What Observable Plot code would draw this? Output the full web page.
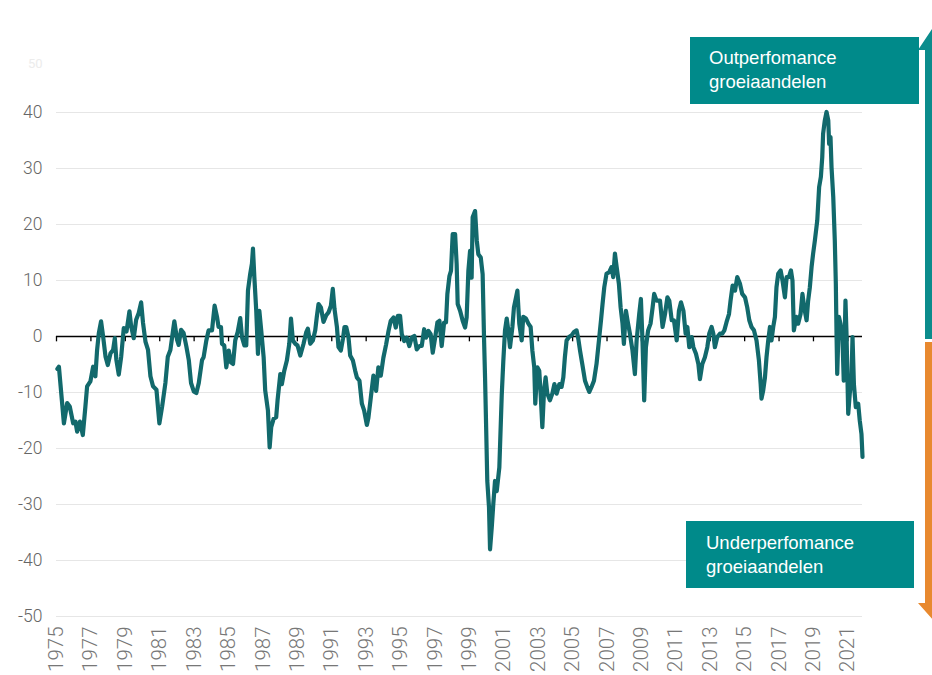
<!DOCTYPE html>
<html><head><meta charset="utf-8">
<script src="https://cdn.jsdelivr.net/npm/d3@7"></script>
<script src="https://cdn.jsdelivr.net/npm/@observablehq/plot@0.6"></script>
<style>
body{margin:0;background:#fff;}
#wrap{position:relative;width:932px;height:675px;overflow:hidden;background:#fff;}
#chart{position:absolute;left:0;top:0;}
.box{position:absolute;background:#008A8A;color:#fff;font-family:"Liberation Sans",Arial,sans-serif;font-size:18.5px;line-height:24px;box-sizing:border-box;}
#arrows{position:absolute;left:0;top:0;pointer-events:none;}
</style>
</head><body>
<div id="wrap">
  <div id="chart"></div>
  <svg id="arrows" width="932" height="675">
    <polygon points="918,50 942,14 966,50 958,50 958,339 925,339 925,50" fill="#0B8C8C"/>
    <polygon points="925,342 958,342 958,603 966,603 942,630 918,603 925,603" fill="#E8892F"/>
  </svg>
  <div class="box" style="left:690px;top:37px;width:229px;height:67px;padding:9px 0 0 19px;">Outperfomance<br>groeiaandelen</div>
  <div class="box" style="left:686px;top:521px;width:228px;height:67px;padding:10px 0 0 20px;">Underperfomance<br>groeiaandelen</div>
</div>
<script>
const years = [1975.05,1975.14,1975.43,1975.62,1975.77,1975.97,1976.10,1976.20,1976.36,1976.53,1976.68,1976.78,1976.97,
1977.13,1977.26,1977.36,1977.46,1977.59,1977.71,1977.85,1977.98,1978.14,1978.29,1978.39,1978.48,1978.62,1978.76,1978.91,
1979.07,1979.24,1979.34,1979.49,1979.63,1979.78,1979.92,1980.03,1980.17,1980.32,1980.46,1980.61,1980.81,1980.98,
1981.14,1981.33,1981.47,1981.62,1981.78,1981.85,1982.01,1982.10,1982.24,1982.39,1982.55,1982.69,1982.82,1982.98,
1983.13,1983.27,1983.46,1983.55,1983.71,1983.84,1984.04,1984.19,1984.33,1984.42,1984.56,1984.62,1984.75,1984.87,
1985.01,1985.14,1985.26,1985.39,1985.53,1985.68,1985.78,1985.92,1986.03,1986.13,1986.26,1986.36,1986.42,1986.50,
1986.61,1986.71,1986.79,1986.90,1987.04,1987.13,1987.29,1987.39,1987.48,1987.62,1987.77,1987.85,1988.01,1988.10,
1988.24,1988.39,1988.53,1988.63,1988.74,1988.88,1989.01,1989.17,1989.36,1989.52,1989.61,1989.75,1989.90,1990.04,
1990.13,1990.23,1990.37,1990.52,1990.68,1990.81,1990.95,1991.06,1991.16,1991.30,1991.39,1991.53,1991.65,1991.74,
1991.84,1991.97,1992.07,1992.23,1992.36,1992.46,1992.61,1992.75,1992.88,1993.04,1993.13,1993.27,1993.42,1993.58,
1993.71,1993.85,1994.00,1994.16,1994.30,1994.43,1994.59,1994.72,1994.84,1994.97,1995.07,1995.21,1995.36,1995.51,
1995.65,1995.80,1995.94,1996.10,1996.23,1996.37,1996.48,1996.62,1996.75,1996.87,1997.01,1997.14,1997.26,1997.39,
1997.53,1997.64,1997.72,1997.84,1997.93,1998.03,1998.17,1998.26,1998.32,1998.46,1998.61,1998.75,1998.84,1998.94,
1999.04,1999.13,1999.19,1999.33,1999.43,1999.52,1999.66,1999.77,1999.85,1999.91,1999.97,2000.04,2000.14,2000.20,
2000.30,2000.39,2000.49,2000.59,2000.74,2000.88,2000.97,2001.07,2001.17,2001.26,2001.36,2001.50,2001.59,2001.71,
2001.79,2001.90,2002.04,2002.13,2002.29,2002.43,2002.56,2002.66,2002.77,2002.83,2002.95,2003.06,2003.14,2003.24,
2003.34,2003.43,2003.53,2003.68,2003.82,2003.94,2004.07,2004.23,2004.36,2004.46,2004.55,2004.65,2004.79,2004.94,
2005.08,2005.23,2005.33,2005.43,2005.56,2005.72,2005.85,2005.97,2006.10,2006.24,2006.39,2006.53,2006.65,2006.74,
2006.84,2006.97,2007.13,2007.26,2007.36,2007.46,2007.56,2007.69,2007.79,2007.90,2007.98,2008.10,2008.19,2008.33,
2008.48,2008.62,2008.72,2008.87,2008.97,2009.06,2009.16,2009.26,2009.39,2009.53,2009.65,2009.74,2009.88,2010.08,
2010.23,2010.37,2010.51,2010.62,2010.76,2010.89,2011.05,2011.18,2011.30,2011.44,2011.57,2011.67,2011.78,2011.92,
2012.02,2012.17,2012.31,2012.40,2012.54,2012.69,2012.83,2012.94,2013.08,2013.18,2013.27,2013.41,2013.56,2013.70,
2013.82,2013.95,2014.09,2014.18,2014.30,2014.44,2014.57,2014.73,2014.86,2015.02,2015.15,2015.27,2015.40,2015.54,
2015.69,2015.83,2015.93,2015.98,2016.08,2016.18,2016.27,2016.37,2016.47,2016.56,2016.66,2016.76,2016.85,2016.95,
2017.09,2017.20,2017.34,2017.44,2017.57,2017.69,2017.78,2017.86,2018.00,2018.11,2018.25,2018.36,2018.46,2018.60,
2018.69,2018.79,2018.89,2018.98,2019.08,2019.22,2019.33,2019.43,2019.51,2019.56,2019.66,2019.76,2019.86,2019.91,
2019.99,2020.05,2020.15,2020.24,2020.30,2020.34,2020.38,2020.48,2020.57,2020.69,2020.76,2020.86,2020.92,2021.02,
2021.11,2021.21,2021.27,2021.35,2021.46,2021.60,2021.69,2021.79,2021.85];

const values = [-5.8,-5.4,-15.5,-11.9,-12.5,-15.5,-15.2,-17.0,-15.2,-17.6,-12.5,-8.9,-8.0,
-5.4,-7.1,-2.4,0.6,2.7,0,-3.6,-5.1,-3.0,-2.4,-0.3,-4.2,-6.8,-3.6,1.5,
0.9,4.5,1.8,-0.3,3.0,4.2,6.1,2.4,-0.9,-2.4,-7.1,-8.9,-9.5,-15.5,
-12.5,-8.3,-3.6,-2.4,1.2,2.7,-0.6,-1.5,1.2,0.6,-1.8,-4.2,-8.3,-9.8,
-10.1,-8.3,-4.2,-3.7,-0.7,1.1,1.1,5.5,3.5,1.7,1.7,-1.3,-1.6,-5.5,
-2.5,-4.6,-4.9,-0.7,0.8,3.3,-0.1,-1.6,-1.6,8.2,11.2,13.0,15.7,10.6,
4.6,-3.1,4.6,1.1,-3.7,-9.6,-13.2,-19.8,-16.2,-14.7,-14.4,-11.4,-6.7,-8.5,
-6.1,-4.3,-1.3,3.2,-0.7,-1.3,-1.6,-3.4,-1.3,0.8,1.4,-1.3,-0.7,1.1,
3.5,5.8,5.2,2.6,3.8,4.3,5.5,8.5,4.9,1.7,-1.9,-2.5,-0.4,1.7,
1.7,-0.1,-3.4,-4.3,-6.1,-7.3,-7.9,-12.0,-13.2,-15.8,-14.5,-10.9,-7.0,-9.7,
-5.5,-7.0,-3.8,-1.4,1.0,2.8,3.4,1.6,3.7,3.7,0.4,-0.8,-0.2,-1.7,
-0.2,0.1,-2.3,-1.7,-1.7,1.3,-0.2,1.0,0.4,-2.9,-0.2,2.5,2.8,-1.7,
2.5,2.5,7.6,10.8,11.7,18.3,18.3,12.9,5.8,4.6,2.8,1.6,3.4,11.7,
15.3,10.5,21.3,22.4,17.1,14.7,14.1,11.1,-0.2,-7.3,-15.7,-25.8,-30.5,-38.0,
-34.1,-29.9,-25.8,-27.6,-23.4,-10.5,-4.5,1.1,3.2,1.1,-1.9,1.7,5.2,7.0,
8.2,2.3,-0.7,3.5,3.2,2.3,1.7,-2.5,-5.5,-12.0,-5.5,-6.1,-10.2,-16.2,
-9.6,-7.3,-10.2,-11.4,-10.2,-8.5,-10.2,-8.5,-9.0,-7.3,-3.7,-0.7,-0.1,0.2,
0.8,1.1,-0.4,-2.5,-4.9,-7.9,-9.0,-9.9,-9.0,-7.9,-4.9,-0.7,2.9,5.8,
8.8,11.2,11.5,12.4,10.6,14.8,12.4,9.4,5.2,2.3,-1.3,4.6,2.9,0.5,
-2.5,-6.7,-0.7,4.0,6.7,-0.7,-11.4,-1.9,1.1,2.3,5.2,7.6,6.4,6.4,
1.7,4.0,7.0,6.4,2.9,2.9,-0.7,4.6,6.1,4.6,0.5,1.7,-1.9,-0.1,
-1.9,-3.1,-4.9,-7.6,-4.9,-3.7,-1.9,0.5,1.7,0.5,-1.9,-0.1,0.5,0.5,
1.1,2.6,4.0,6.4,9.1,8.2,10.6,9.4,7.6,7.0,5.2,2.9,1.7,1.1,
-0.7,-4.3,-8.5,-11.1,-9.6,-7.3,-3.7,-0.7,1.7,-0.7,1.7,3.5,8.8,11.2,
11.8,10.0,7.0,10.6,10.6,11.8,10.0,1.1,3.5,2.3,4.0,7.6,5.2,2.9,
6.4,8.8,12.4,14.8,17.1,20.7,26.7,28.5,32.0,36.2,38.6,40.1,38.6,34.4,
35.6,30.2,24.9,17.1,9.4,0.5,-6.7,3.5,2.3,-0.7,-7.9,6.4,0.5,-13.8,
-10.2,-7.3,-0.1,-8.5,-12.6,-12.0,-15.0,-17.4,-21.5];

const yTicks = [-50,-40,-30,-20,-10,0,10,20,30,40];
const yTickLabels = ["-50","-40","-30","-20","-10","0","10","20","30","40"];
const xTickYears = [1975,1977,1979,1981,1983,1985,1987,1989,1991,1993,1995,1997,1999,2001,2003,2005,2007,2009,2011,2013,2015,2017,2019,2021];
const xTickLabels = ["1975","1977","1979","1981","1983","1985","1987","1989","1991","1993","1995","1997","1999","2001","2003","2005","2007","2009","2011","2013","2015","2017","2019","2021"];

const data = years.map((t, i) => ({t, v: values[i]}));
const xLab = new Map(xTickYears.map((y, i) => [y, xTickLabels[i]]));
const yLab = new Map(yTicks.map((y, i) => [y, yTickLabels[i]]));

const chart = Plot.plot({
  width: 932, height: 675,
  marginLeft: 56, marginRight: 70, marginTop: 56, marginBottom: 59,
  x: {domain: [1975, 2021.85], axis: null},
  y: {domain: [-50, 50], axis: null},
  style: {fontFamily: "Roboto, 'Liberation Sans', sans-serif", background: "transparent", overflow: "visible"},
  marks: [
    Plot.gridY(yTicks, {stroke: "#e6e6e6", strokeOpacity: 1, strokeWidth: 1.2}),
    Plot.axisY(yTicks, {label: null, tickSize: 0, tickPadding: 14, fontSize: 17.5, fill: "#666", fontWeight: 300, tickFormat: d => yLab.get(d)}),
    Plot.text([50], {y: d => d, text: d => String(d), frameAnchor: "left", dx: -14, dy: 7, textAnchor: "end", fill: "#ececec", fontSize: 13}),
    Plot.axisX(xTickYears, {label: null, anchor: "bottom", tickSize: 0, tickPadding: 10, tickRotate: -90, fontSize: 20.5, fill: "#777", fontWeight: 300, tickFormat: d => xLab.get(d)}),
    Plot.ruleY([0], {stroke: "#000", strokeWidth: 1.3}),
    Plot.ruleX(xTickYears, {x: d => d, y1: 0, y2: -0.95, stroke: "#000", strokeWidth: 1.3}),
    Plot.line(data, {x: "t", y: "v", stroke: "#12696C", strokeWidth: 4.2, strokeLinejoin: "round"})
  ]
});
document.getElementById("chart").appendChild(chart);
</script>
</body></html>
